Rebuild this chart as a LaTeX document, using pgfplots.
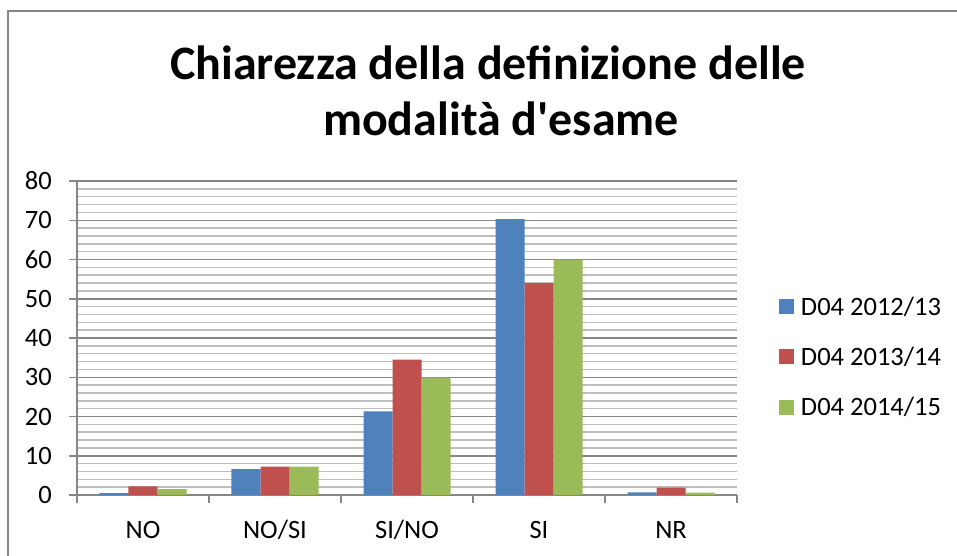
\documentclass[border=0pt]{standalone}
\usepackage{fontspec}
\setmainfont{Carlito}[Ligatures=TeXOff]
\usepackage{pgfplots}
\pgfplotsset{compat=1.18}
\definecolor{sblue}{HTML}{4F81BD}
\definecolor{sred}{HTML}{C0504D}
\definecolor{sgreen}{HTML}{9BBB59}
\definecolor{gmaj}{HTML}{868686}
\definecolor{gmin}{HTML}{BEBEBE}
\pgfplotsset{sq/.style={legend image code/.code={\fill[##1] (0bp,-7.5bp) rectangle (15bp,7.5bp);}}}
\begin{document}
\begin{tikzpicture}
\path[use as bounding box] (0bp,0bp) rectangle (957bp,556bp);
\draw[line width=2bp, color=gmaj] (8bp,0bp) -- (8bp,545bp) -- (957bp,545bp);
\node[font=\fontsize{48bp}{56bp}\selectfont\bfseries, anchor=base, inner sep=0pt] at (488bp,476bp) {Chiarezza della definizione delle};
\node[font=\fontsize{48bp}{56bp}\selectfont\bfseries, anchor=base, inner sep=0pt] at (501bp,420bp) {modalità d'esame};
\begin{axis}[
  at={(77bp,61bp)}, anchor=south west,
  scale only axis, width=660bp, height=314bp,
  ybar=0pt, bar width=29bp,
  xmin=-0.5, xmax=4.5, ymin=0, ymax=80,
  xtick={-0.5,0.5,1.5,2.5,3.5,4.5}, xticklabels={},
  extra x ticks={0,1,2,3,4}, extra x tick labels={NO,NO/SI,SI/NO,SI,NR},
  extra x tick style={major tick length=0pt, grid=none},
  ytick={0,10,...,80}, minor y tick num=4,
  ymajorgrids, yminorgrids,
  major grid style={gmaj, line width=1.5bp},
  minor grid style={gmin, line width=1.5bp},
  axis x line*=bottom, axis y line*=left,
  axis line style={gmaj, line width=1.5bp},
  tick style={gmaj, line width=1.5bp},
  tick align=outside, major tick length=8bp, minor tick length=0pt,
  ticklabel style={font=\fontsize{26.5bp}{30bp}\selectfont},
  /pgf/number format/assume math mode=true,
  yticklabel style={anchor=east, inner sep=0pt, xshift=-17bp},
  xticklabel style={anchor=base, inner sep=0pt, yshift=-43bp},
  legend style={at={(1.0636,0.4395)}, anchor=west, draw=none, fill=none,
    inner sep=0pt, outer sep=0pt,
    font=\fontsize{26.5bp}{30bp}\selectfont, row sep=26.5bp,
    nodes={inner xsep=7bp}},
  legend cell align=left,
]
\addplot[sblue, fill=sblue, draw=none, sq] coordinates {(0,0.5) (1,6.6) (2,21.3) (3,70.3) (4,0.7)};
\addplot[sred, fill=sred, draw=none, sq] coordinates {(0,2.2) (1,7.2) (2,34.5) (3,54.0) (4,1.9)};
\addplot[sgreen, fill=sgreen, draw=none, sq] coordinates {(0,1.5) (1,7.2) (2,29.9) (3,60.0) (4,0.6)};
\legend{D04 2012/13, D04 2013/14, D04 2014/15}
\end{axis}
\end{tikzpicture}
\end{document}
